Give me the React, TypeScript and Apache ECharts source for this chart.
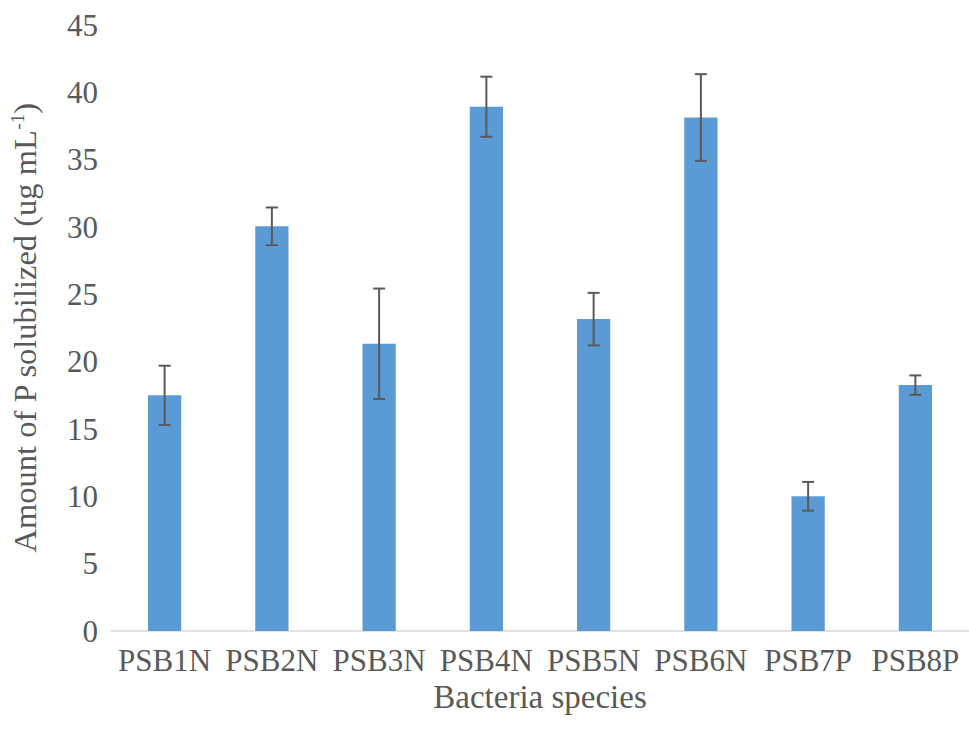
import React, { useEffect, useRef } from "react";
import * as echarts from "echarts";

const categories = ["PSB1N", "PSB2N", "PSB3N", "PSB4N", "PSB5N", "PSB6N", "PSB7P", "PSB8P"];
const means = [17.5, 30.05, 21.33, 38.93, 23.16, 38.13, 10.0, 18.26];
const errors = [2.2, 1.4, 4.1, 2.23, 1.95, 3.22, 1.07, 0.72];
const yTicks = [0, 5, 10, 15, 20, 25, 30, 35, 40, 45];

const FONT = "Liberation Serif";
const TEXT = "#595959";

export default function App() {
  const ref = useRef<HTMLDivElement>(null);
  useEffect(() => {
    if (!ref.current) return;
    const chart = echarts.init(ref.current, undefined, { renderer: "svg" });
    const errData = categories.map((_, i) => [i, means[i] - errors[i], means[i] + errors[i]]);
    chart.setOption({
      animation: false,
      backgroundColor: "#ffffff",
      textStyle: { fontFamily: FONT, color: TEXT },
      grid: { left: 110, top: 25, bottom: 98, width: 866, containLabel: false },
      xAxis: {
        type: "category",
        data: categories,
        name: "Bacteria species",
        nameLocation: "middle",
        nameGap: 8,
        nameTextStyle: { fontFamily: FONT, fontSize: 33, color: TEXT },
        axisLine: { lineStyle: { color: "#D9D9D9", width: 1.5 } },
        axisTick: { show: false },
        axisLabel: { fontFamily: FONT, fontSize: 31, color: TEXT, margin: 14, interval: 0 },
      },
      yAxis: {
        type: "value",
        min: yTicks[0],
        max: yTicks[yTicks.length - 1],
        interval: 5,
        name: "Amount of P solubilized (ug mL{sup|-1})",
        nameLocation: "middle",
        nameGap: 70,
        nameTextStyle: {
          fontFamily: FONT,
          fontSize: 32.5,
          color: TEXT,
          rich: { sup: { fontFamily: FONT, fontSize: 19, color: TEXT, verticalAlign: "top", padding: [0, 0, 14, 0] } },
        },
        axisLine: { show: false },
        axisTick: { show: false },
        splitLine: { show: false },
        axisLabel: { fontFamily: FONT, fontSize: 31, color: TEXT, margin: 13 },
      },
      series: [
        {
          type: "bar",
          data: means,
          barWidth: "31%",
          itemStyle: { color: "#5B9BD5" },
        },
        {
          type: "custom",
          data: errData,
          z: 10,
          renderItem: (params: any, api: any) => {
            const x = api.value(0);
            const lo = api.coord([x, api.value(1)]);
            const hi = api.coord([x, api.value(2)]);
            const cap = 6;
            const style = { stroke: "#595959", lineWidth: 2 };
            return {
              type: "group",
              children: [
                { type: "line", shape: { x1: hi[0], y1: hi[1], x2: lo[0], y2: lo[1] }, style },
                { type: "line", shape: { x1: hi[0] - cap, y1: hi[1], x2: hi[0] + cap, y2: hi[1] }, style },
                { type: "line", shape: { x1: lo[0] - cap, y1: lo[1], x2: lo[0] + cap, y2: lo[1] }, style },
              ],
            };
          },
        },
      ],
    });
    return () => chart.dispose();
  }, []);
  return <div ref={ref} style={{ width: 969, height: 729, position: "absolute", left: 0, top: 0 }} />;
}
